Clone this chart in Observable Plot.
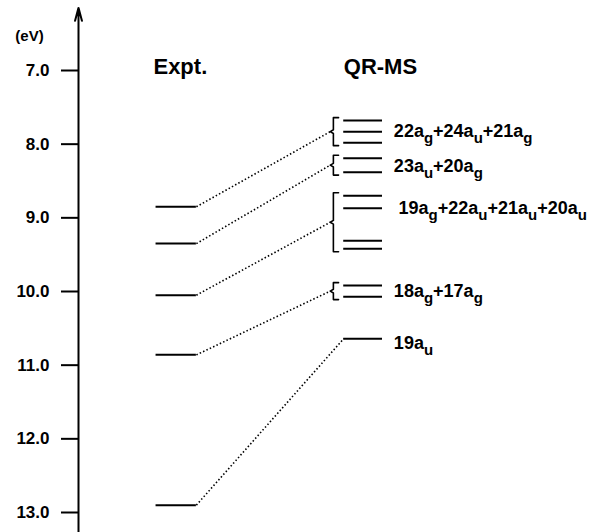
<!DOCTYPE html>
<html><head><meta charset="utf-8">
<script src="https://cdn.jsdelivr.net/npm/d3@7"></script>
<script src="https://cdn.jsdelivr.net/npm/@observablehq/plot@0.6"></script>
<style>body{margin:0;background:#fff} #chart{width:595px;height:532px}</style>
</head><body><div id="chart"></div>
<script>
// ---- data (energies in eV) ----
const unitLabel = "(eV)";
const tickValues = [7, 8, 9, 10, 11, 12, 13];
const columnHeaders = ["Expt.", "QR-MS"];
const exptEnergies = [8.85, 9.35, 10.05, 10.86, 12.90];
const qrmsEnergies = [7.68, 7.83, 7.98, 8.19, 8.38, 8.70, 8.87, 9.31, 9.42, 9.92, 10.07, 10.64];
const qrmsGroup    = [0, 0, 0, 1, 1, 2, 2, 2, 2, 3, 3, 4];
const groupLabels  = ["22a_g+24a_u+21a_g", "23a_u+20a_g", "19a_g+22a_u+21a_u+20a_u", "18a_g+17a_g", "19a_u"];
const labelEnergies = [7.83, 8.30, 8.87, 9.99, 10.70];
const exptToGroup  = [0, 1, 2, 3, 4];

// ---- layout (x in column units, 0 = energy axis) ----
const L = {exptX1: 15, exptX2: 22.8, qrX1: 51.3, qrX2: 58.8, bracketX: 49.3, serifX: 50.3, tipX: 48.7,
           labelX: [61.0, 61.0, 61.9, 61.0, 61.0], headerX: [19.7, 58.4], pad: 0.04};

const levelsQ = qrmsEnergies.map((E, i) => ({E, g: qrmsGroup[i]}));
const levelsE = exptEnergies.map(E => ({E}));
const groups = groupLabels.map((label, g) => {
  const es = qrmsEnergies.filter((_, i) => qrmsGroup[i] === g);
  const lo = d3.min(es), hi = d3.max(es);
  return {g, label, lo, hi, mid: (lo + hi) / 2, n: es.length};
});
const bracketPts = [];
groups.filter(d => d.n > 1).forEach(d => {
  const top = d.lo - L.pad, bot = d.hi + L.pad;
  bracketPts.push(
    {g: d.g, x: L.serifX, y: top}, {g: d.g, x: L.bracketX, y: top},
    {g: d.g, x: L.bracketX, y: d.mid - 0.025}, {g: d.g, x: L.tipX, y: d.mid},
    {g: d.g, x: L.bracketX, y: d.mid + 0.025}, {g: d.g, x: L.bracketX, y: bot},
    {g: d.g, x: L.serifX, y: bot});
});
const connectors = exptEnergies.map((E, i) => {
  const grp = groups[exptToGroup[i]];
  return {x1: L.exptX2, y1: E, x2: grp.n > 1 ? L.tipX : L.qrX1, y2: grp.mid};
});
const labels = groupLabels.map((t, i) => ({t, E: labelEnergies[i], x: L.labelX[i]}));

const font = "'Liberation Sans', Arial, Helvetica, sans-serif";
const chart = Plot.plot({
  width: 595, height: 532,
  marginLeft: 78, marginRight: 0, marginTop: 0, marginBottom: 0,
  style: {fontFamily: font, fontWeight: "bold", background: "#fff", color: "#000"},
  x: {domain: [0, 100], range: [78, 595], axis: null},
  y: {domain: [7, 13], range: [70, 512], axis: null},
  marks: [
    Plot.arrow([{x: 0, y1: 13.3, y2: 6.15}], {x1: "x", x2: "x", y1: "y1", y2: "y2", stroke: "#000", strokeWidth: 2, headLength: 10, headAngle: 30}),
    Plot.axisY(tickValues, {anchor: "left", tickSize: 17, tickPadding: 12, strokeWidth: 2,
      tickFormat: d => d.toFixed(1), fontSize: 17, fontWeight: "bold", label: null}),
    Plot.text([unitLabel], {x: [0], y: [6.54], dx: -49, fontSize: 15, fontWeight: "bold"}),
    Plot.text(columnHeaders, {x: L.headerX, y: [7, 7], dy: -4, fontSize: 22, fontWeight: "bold"}),
    Plot.ruleY(levelsE, {y: "E", x1: L.exptX1, x2: L.exptX2, stroke: "#000", strokeWidth: 2}),
    Plot.ruleY(levelsQ, {y: "E", x1: L.qrX1, x2: L.qrX2, stroke: "#000", strokeWidth: 2}),
    Plot.line(bracketPts, {x: "x", y: "y", z: "g", stroke: "#000", strokeWidth: 1.6, curve: "linear"}),
    Plot.link(connectors, {x1: "x1", y1: "y1", x2: "x2", y2: "y2", stroke: "#000", strokeWidth: 1.6, strokeDasharray: "1.5,2.2"}),
    Plot.text(labels, {x: "x", y: "E", text: "t", textAnchor: "start", fontSize: 18, fontWeight: "bold"})
  ]
});
document.getElementById("chart").appendChild(chart);

// subscripts: "a_g" -> a with subscript g
const SUB = 6;
d3.select(chart).selectAll("text").filter(function() { return this.textContent.includes("_"); }).each(function() {
  const el = d3.select(this);
  const s = el.text();
  el.text(null);
  const parts = s.split(/_(\w)/);
  let pending = 0;
  parts.forEach((p, i) => {
    if (!p) return;
    if (i % 2 === 1) {
      el.append("tspan").attr("dy", SUB).attr("font-size", 15).text(p);
      pending = -SUB;
    } else {
      const t = el.append("tspan").text(p);
      if (pending) t.attr("dy", pending);
      pending = 0;
    }
  });
});
</script></body></html>
